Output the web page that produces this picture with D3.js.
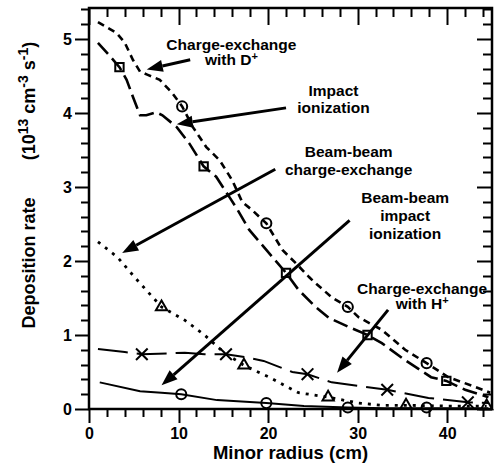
<!DOCTYPE html>
<html lang="en">
<head>
<meta charset="UTF-8">
<style>
  body { margin: 0; background: #fff; }
  svg text { font-family: "Liberation Sans", Arial, Helvetica, sans-serif; font-weight: bold; fill: #000; }
  .curve { fill: none; stroke: #000; }
  .mark { fill: none; stroke: #000; stroke-width: 2; }
</style>
<script src="https://d3js.org/d3.v7.min.js"></script>
</head>
<body>
<div id="chart"></div>
<script>
// Charge-exchange with D+ (short dashes, circles)
const cxD_x = [1.0, 3.1, 4.0, 4.9, 5.7, 6.5, 7.9, 9.3, 10.4, 11.6, 13.1, 14.6, 16.0, 17.1, 18.2, 19.8, 21.6, 23.1, 24.6, 25.3, 27.1, 28.9, 30.1, 32.7, 35.3, 37.7, 40.1, 43.1, 44.8];
const cxD_y = [5.23, 5.08, 4.95, 4.72, 4.56, 4.52, 4.45, 4.27, 4.09, 3.81, 3.54, 3.36, 3.09, 2.80, 2.69, 2.51, 2.15, 1.97, 1.78, 1.70, 1.51, 1.38, 1.24, 1.07, 0.80, 0.62, 0.43, 0.30, 0.22];
const cxD_mx = [10.4, 19.8, 28.9, 37.7];
const cxD_my = [4.09, 2.51, 1.38, 0.62];

// Impact ionization (long dashes, squares)
const imp_x = [1.0, 2.7, 3.4, 4.2, 4.9, 5.7, 6.4, 7.5, 8.2, 9.8, 11.2, 12.8, 14.2, 15.7, 16.6, 17.9, 19.8, 22.0, 23.4, 25.3, 26.8, 29.0, 31.1, 32.7, 35.3, 38.2, 39.9, 42.0, 44.6];
const imp_y = [4.95, 4.72, 4.62, 4.45, 4.22, 3.97, 3.97, 4.01, 3.97, 3.81, 3.59, 3.28, 3.14, 2.86, 2.69, 2.42, 2.15, 1.84, 1.61, 1.38, 1.23, 1.11, 1.00, 0.89, 0.66, 0.43, 0.38, 0.26, 0.16];
const imp_mx = [3.4, 12.8, 22.0, 31.1, 39.9];
const imp_my = [4.62, 3.28, 1.84, 1.00, 0.38];

// Beam-beam charge-exchange (dotted, triangles)
const bbcx_x = [1.0, 3.2, 5.1, 6.6, 8.1, 10.7, 12.9, 15.1, 17.3, 20.3, 21.8, 23.4, 26.7, 30.1, 32.7, 35.4, 40.0, 44.4];
const bbcx_y = [2.26, 2.05, 1.78, 1.58, 1.38, 1.20, 1.00, 0.76, 0.59, 0.42, 0.32, 0.22, 0.16, 0.08, 0.05, 0.05, 0.04, 0.04];
const bbcx_mx = [8.1, 17.3, 26.7, 35.4, 44.4];
const bbcx_my = [1.38, 0.59, 0.16, 0.05, 0.04];

// Charge-exchange with H+ (long dash, crosses)
const cxH_x = [1.0, 4.0, 5.9, 10.7, 12.9, 15.3, 17.5, 19.5, 21.0, 22.7, 24.4, 27.1, 33.3, 37.9, 42.3, 44.6];
const cxH_y = [0.81, 0.77, 0.74, 0.76, 0.74, 0.74, 0.70, 0.65, 0.58, 0.50, 0.47, 0.36, 0.26, 0.15, 0.09, 0.08];
const cxH_mx = [5.9, 15.3, 24.4, 33.3, 42.3];
const cxH_my = [0.74, 0.74, 0.47, 0.26, 0.09];

// Beam-beam impact ionization (solid, circles)
const bbii_x = [1.2, 5.7, 8.1, 10.3, 14.3, 19.8, 24.0, 28.9, 33.0, 37.7, 44.6];
const bbii_y = [0.36, 0.24, 0.22, 0.20, 0.12, 0.08, 0.04, 0.02, 0.01, 0.01, 0.01];
const bbii_mx = [10.3, 19.8, 28.9, 37.7];
const bbii_my = [0.20, 0.08, 0.02, 0.02];

const xTicks = [0, 10, 20, 30, 40];
const yTicks = [0, 1, 2, 3, 4, 5];

// annotation labels: lines, text anchor point, arrow from -> to (data units)
const annLines = [
  [["Charge-exchange"], ["with D", "+"]],
  [["Impact"], ["ionization"]],
  [["Beam-beam"], ["charge-exchange"]],
  [["Beam-beam"], ["impact"], ["ionization"]],
  [["Charge-exchange"], ["with H", "+"]]
];
const annX = [15.9, 27.3, 29.0, 35.3, 37.2];
const annY = [4.85, 4.23, 3.41, 2.78, 1.55];
const annGap = [15, 17, 18, 18, 15];
const arrFrom = [[11.3, 4.72], [22.0, 4.07], [20.8, 3.24], [29.1, 2.55], [33.4, 1.34]];
const arrTo = [[6.45, 4.59], [9.8, 3.85], [3.7, 2.11], [8.1, 0.32], [27.7, 0.49]];

const W = 501, H = 468;
const x = d3.scaleLinear().domain([0, 45]).range([89, 492]);
const y = d3.scaleLinear().domain([0, 5.42]).range([409, 8]);

const svg = d3.select("#chart").append("svg")
  .attr("width", W).attr("height", H);

// frame
svg.append("rect")
  .attr("x", x(0)).attr("y", y(5.42))
  .attr("width", x(45) - x(0)).attr("height", y(0) - y(5.42))
  .attr("fill", "none").attr("stroke", "#000").attr("stroke-width", 2.5);

// tick marks as paths, placed with the scales
const yMinor = d3.range(0, 5.41, 0.2);
const xMinor = d3.range(0, 45, 2);
const isMajor = v => Math.abs(v - Math.round(v)) < 1e-6;
let tickD = "";
yMinor.forEach(v => {
  const py = Math.round(y(v)) + 0.5;
  const maj = isMajor(v);
  tickD += `M${x(0)},${py}h${maj ? -14 : -8}`;          // left, outward
  tickD += `M${x(45)},${py}h${maj ? -15 : -9}`;         // right, inward
});
xMinor.forEach(v => {
  const px = Math.round(x(v)) + 0.5;
  const maj = v % 10 === 0;
  tickD += `M${px},${y(0)}v${maj ? 14 : 8}`;            // bottom, outward
  tickD += `M${px},${y(5.42)}v${maj ? 17 : 9}`;         // top, inward
});
svg.append("path").attr("class", "ticks")
  .attr("d", tickD)
  .attr("fill", "none").attr("stroke", "#000").attr("stroke-width", 2);

// tick labels through d3 axes (their own lines removed)
function labels(gen, tx, ty) {
  const g = svg.append("g").attr("transform", `translate(${tx},${ty})`).call(gen);
  g.select(".domain").remove();
  g.selectAll(".tick line").remove();
  g.selectAll(".tick text").style("font-size", "16px");
  return g;
}
labels(d3.axisLeft(y).tickValues(yTicks).tickSize(14).tickPadding(3).tickFormat(d3.format("d")), 89, 0);
labels(d3.axisBottom(x).tickValues(xTicks).tickSize(14).tickPadding(5).tickFormat(d3.format("d")), 0, 409);

// curves
const lineGen = d3.line().x(d => x(d[0])).y(d => y(d[1]));
const series = [
  {xs: cxD_x, ys: cxD_y, dash: "7,5", w: 2.6},
  {xs: imp_x, ys: imp_y, dash: "15,6", w: 2.6},
  {xs: bbcx_x, ys: bbcx_y, dash: "3,6", w: 2.8},
  {xs: cxH_x, ys: cxH_y, dash: "30,9", w: 2},
  {xs: bbii_x, ys: bbii_y, dash: null, w: 2}
];
series.forEach(s => {
  svg.append("path").attr("class", "curve")
    .attr("d", lineGen(d3.zip(s.xs, s.ys)))
    .attr("stroke-width", s.w)
    .attr("stroke-dasharray", s.dash);
});

// markers
function marks(xs, ys, type, size) {
  svg.append("g").selectAll("path").data(d3.zip(xs, ys)).join("path")
    .attr("class", "mark")
    .attr("transform", d => `translate(${x(d[0])},${y(d[1])})`)
    .attr("d", d3.symbol(type, size))
    .attr("stroke-width", type === d3.symbolX ? 3 : 2);
}
marks(cxD_mx, cxD_my, d3.symbolCircle, 80);
marks(imp_mx, imp_my, d3.symbolSquare, 70);
marks(bbcx_mx, bbcx_my, d3.symbolTriangle, 55);
marks(cxH_mx, cxH_my, d3.symbolX, 90);
marks(bbii_mx, bbii_my, d3.symbolCircle, 80);

// annotations with arrows (head drawn as a filled path)
annLines.forEach((lines, i) => {
  const t = svg.append("text")
    .attr("text-anchor", "middle")
    .style("font-size", "15.5px");
  lines.forEach((parts, j) => {
    t.append("tspan").attr("x", x(annX[i])).attr("y", y(annY[i]) + j * annGap[i]).text(parts[0]);
    if (parts[1]) {
      t.append("tspan").attr("dy", -5).style("font-size", "11px").text(parts[1]);
    }
  });
  const x1 = x(arrFrom[i][0]), y1 = y(arrFrom[i][1]);
  const x2 = x(arrTo[i][0]), y2 = y(arrTo[i][1]);
  const a = Math.atan2(y2 - y1, x2 - x1);
  const len = 16, hw = 6;
  const bx = x2 - len * Math.cos(a), by = y2 - len * Math.sin(a);
  svg.append("path")
    .attr("d", `M${x1},${y1}L${bx},${by}`)
    .attr("fill", "none").attr("stroke", "#000").attr("stroke-width", 3);
  svg.append("path")
    .attr("d", `M${x2},${y2}L${bx - hw * Math.sin(a)},${by + hw * Math.cos(a)}L${bx + hw * Math.sin(a)},${by - hw * Math.cos(a)}Z`)
    .attr("fill", "#000");
});

// axis titles
svg.append("text")
  .attr("x", x(22.5)).attr("y", 459)
  .attr("text-anchor", "middle")
  .style("font-size", "18.5px")
  .text("Minor radius (cm)");

svg.append("text")
  .attr("transform", "translate(35,263) rotate(-90)")
  .attr("text-anchor", "middle")
  .style("font-size", "18px")
  .text("Deposition rate");

const yt = svg.append("text")
  .attr("transform", "translate(35,101) rotate(-90)")
  .attr("text-anchor", "middle")
  .style("font-size", "18px");
yt.append("tspan").text("(10");
yt.append("tspan").attr("dy", -7).style("font-size", "14px").text("13");
yt.append("tspan").attr("dy", 7).text(" cm");
yt.append("tspan").attr("dy", -7).style("font-size", "14px").text("-3");
yt.append("tspan").attr("dy", 7).text(" s");
yt.append("tspan").attr("dy", -7).style("font-size", "14px").text("-1");
yt.append("tspan").attr("dy", 7).text(")");
</script>
</body>
</html>
